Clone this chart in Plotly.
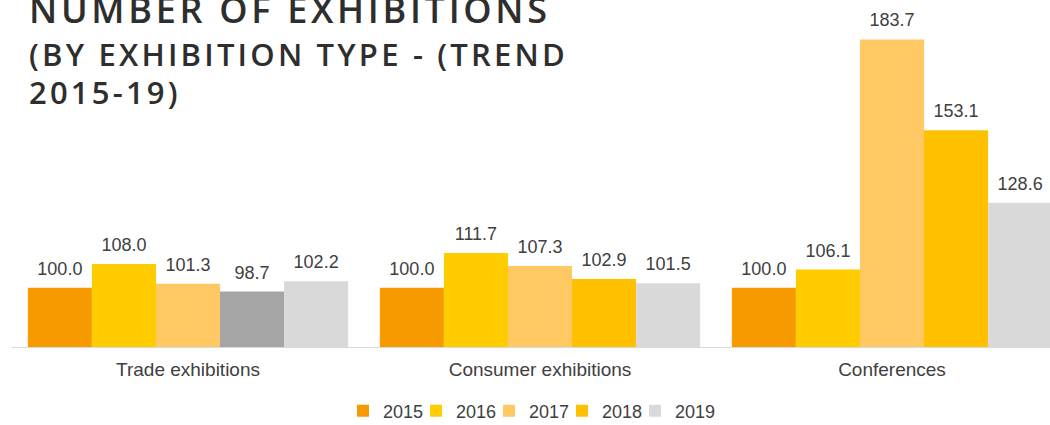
import plotly.graph_objects as go

categories = ["Trade exhibitions", "Consumer exhibitions", "Conferences"]
years = ["2015", "2016", "2017", "2018", "2019"]
v2015 = [100.0, 100.0, 100.0]
v2016 = [108.0, 111.7, 106.1]
v2017 = [101.3, 107.3, 183.7]
v2018 = [98.7, 102.9, 153.1]
v2019 = [102.2, 101.5, 128.6]

colors = {
    "2015": ["#F79A00"] * 3,
    "2016": ["#FFCC00"] * 3,
    "2017": ["#FFC862"] * 3,
    "2018": ["#A5A5A5", "#FFC000", "#FFC000"],
    "2019": ["#D9D9D9"] * 3,
}
series = {"2015": v2015, "2016": v2016, "2017": v2017, "2018": v2018, "2019": v2019}

W, H = 1050, 425
L, R, T, B = 12, 0, 0, 78
PW, PH = W - L - R, H - T - B


def px(x):
    return (x - L) / PW


def py(y):
    return (H - B - y) / PH


LABEL_FONT = "Liberation Sans, Arial, sans-serif"
GAP = 0.09

fig = go.Figure()
for yr in years:
    vals = series[yr]
    cols = colors[yr]
    # order points so the legend icon takes a representative colour
    order = [1, 2, 0] if yr == "2018" else [0, 1, 2]
    fig.add_trace(go.Bar(
        name=yr,
        x=[categories[i] for i in order],
        y=[vals[i] for i in order],
        marker=dict(color=[cols[i] for i in order], line=dict(width=0)),
        legendwidth=48 if yr == years[-1] else 28,
        hoverinfo="skip",
    ))

# value labels, grouped like the bars
for yr in years:
    vals = series[yr]
    fig.add_trace(go.Scatter(
        x=categories, y=vals, mode="markers+text",
        text=[f"{v:.1f}" for v in vals], textposition="top center",
        textfont=dict(family=LABEL_FONT, size=18, color="#404040"),
        marker=dict(size=12, color="rgba(0,0,0,0)", opacity=0),
        showlegend=False, cliponaxis=False, hoverinfo="skip",
    ))

fig.update_layout(
    width=W, height=H,
    margin=dict(l=L, r=R, t=T, b=B, autoexpand=False),
    paper_bgcolor="white", plot_bgcolor="white",
    barmode="group", bargap=GAP, bargroupgap=0,
    scattermode="group", scattergap=GAP,
    showlegend=True,
    legend=dict(
        orientation="h", xref="container", yref="container",
        x=343 / W, xanchor="left", y=(H - 411) / H, yanchor="middle",
        font=dict(family=LABEL_FONT, size=18, color="#404040"),
        entrywidthmode="pixels",
        traceorder="normal",
    ),
    xaxis=dict(
        type="category", categoryorder="array", categoryarray=categories,
        range=[-0.5, -0.5 + PW / 352.0], automargin=False,
        showline=True, linecolor="#D9D9D9", linewidth=1,
        showgrid=False, ticks="", ticklabelstandoff=5,
        tickfont=dict(family=LABEL_FONT, size=19, color="#404040"),
    ),
    yaxis=dict(range=[80, 197], visible=False, showgrid=False, zeroline=False, automargin=False),
)

title_font = "Open Sans, Noto Sans, sans-serif"
title_lines = [
    ("NUMBER OF EXHIBITIONS", 36, 3.7, 10),
    ("(BY EXHIBITION TYPE - (TREND", 31, 3.2, 54),
    ("2015-19)", 31, 3.2, 92),
]
for txt, size, ls, yc in title_lines:
    fig.add_annotation(
        text=f"<span style='letter-spacing:{ls}px'>{txt}</span>",
        xref="paper", yref="paper", x=px(27), y=py(yc),
        xanchor="left", yanchor="middle", showarrow=False,
        font=dict(family=title_font, size=size, color="#2E2E2E", weight=600),
    )

fig.write_html("out.html", config={"displayModeBar": False},
               post_script="document.body.style.margin='0';")
